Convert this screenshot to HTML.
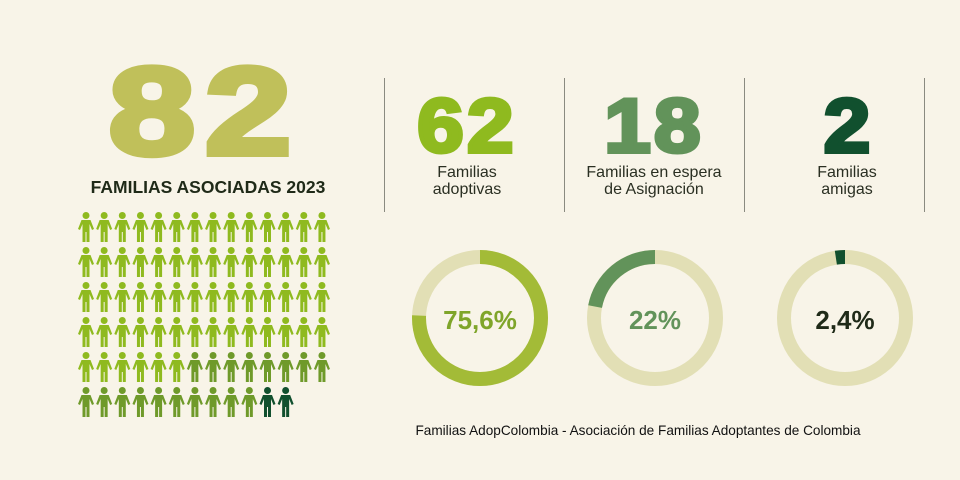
<!DOCTYPE html>
<html><head><meta charset="utf-8"><style>
body{margin:0;width:960px;height:480px;background:#f8f4e8;position:relative;overflow:hidden;font-family:"Liberation Sans",sans-serif}
.a{position:absolute}
.big{font-weight:900;-webkit-text-stroke:6px currentColor;text-align:center;line-height:1}
.lbl{font-size:16px;color:#2a2f22;text-align:center;line-height:17px}
.div{position:absolute;top:78px;height:134px;width:1px;background:#8a8a80}
</style></head><body>
<div class="a big" style="left:85px;top:50px;width:240px;font-size:124px;color:#c0c05a;transform:scaleX(1.25);letter-spacing:8px">82</div>
<div class="a" style="left:78px;top:177px;width:260px;font-size:17.5px;font-weight:bold;color:#1f2a18;text-align:center">FAMILIAS ASOCIADAS 2023</div>
<div class="div" style="left:384px"></div><div class="div" style="left:564px"></div><div class="div" style="left:744px"></div><div class="div" style="left:924px"></div>
<div class="a big" style="left:397px;top:89px;width:140px;font-size:76px;color:#8fba1f;-webkit-text-stroke:4px #8fba1f;letter-spacing:3px;transform:scaleX(1.1)">62</div>
<div class="a big" style="left:584px;top:89px;width:140px;font-size:76px;color:#62935a;-webkit-text-stroke:4px #62935a;letter-spacing:3px;transform:scaleX(1.1)">18</div>
<div class="a big" style="left:777px;top:89px;width:140px;font-size:76px;color:#11502e;-webkit-text-stroke:4px #11502e;transform:scaleX(1.1)">2</div>
<div class="a lbl" style="left:397px;top:164px;width:140px">Familias<br>adoptivas</div>
<div class="a lbl" style="left:574px;top:164px;width:160px">Familias en espera<br>de Asignación</div>
<div class="a lbl" style="left:777px;top:164px;width:140px">Familias<br>amigas</div>
<svg class="a" style="left:0;top:0" width="960" height="480">
<defs><g id="p"><circle cx="0" cy="3.5" r="3.5"/><path d="M-4.5,8 h9 l3.5,9 l-2,1 l-2.5,-6 v18 h-3 v-10 h-1 v10 h-3 v-18 l-2.5,6 l-2,-1 z"/></g></defs>
<g id="grid"></g>
<g fill="none" stroke-width="14">
<circle cx="480" cy="318" r="61" stroke="#e2dfb5"/>
<circle cx="480" cy="318" r="61" stroke="#a3bb37" stroke-dasharray="289.8 1000" transform="rotate(-90 480 318)"/>
<circle cx="655" cy="318" r="61" stroke="#e2dfb5"/>
<circle cx="655" cy="318" r="61" stroke="#62935a" stroke-dasharray="84.3 1000" transform="rotate(-90 655 318) scale(1,-1) translate(0,-636)"/>
<circle cx="845" cy="318" r="61" stroke="#e2dfb5"/>
<circle cx="845" cy="318" r="61" stroke="#11502e" stroke-dasharray="9.2 1000" transform="rotate(-90 845 318) scale(1,-1) translate(0,-636)"/>
</g>
<g font-family="Liberation Sans" font-weight="bold" font-size="26" text-anchor="middle">
<text x="480" y="329" fill="#7fa52a">75,6%</text>
<text x="655" y="329" fill="#62935a">22%</text>
<text x="845" y="329" fill="#1f2a18">2,4%</text>
</g>
<text x="638" y="435" font-family="Liberation Sans" font-size="13.6" fill="#111" text-anchor="middle">Familias AdopColombia - Asociación de Familias Adoptantes de Colombia</text>
</svg>
<script>
var g=document.getElementById('grid'),s='';
for(var i=0;i<82;i++){var r=Math.floor(i/14),c=i%14;var col=i<62?'#8fba1f':(i<80?'#6f9a2a':'#11502e');
s+='<use href="#p" fill="'+col+'" x="'+(86+c*18.15)+'" y="'+(212+r*35)+'"/>';}
g.innerHTML=s;
</script>
</body></html>
